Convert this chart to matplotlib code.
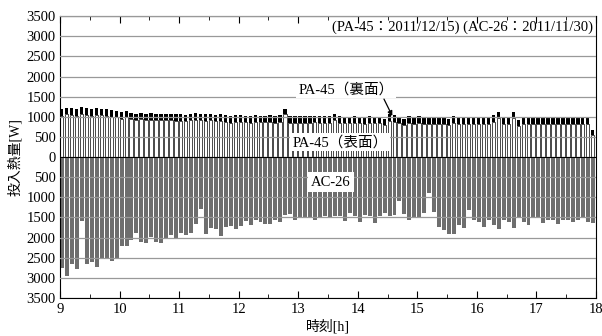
import numpy as np
import matplotlib.pyplot as plt
from matplotlib.ticker import FuncFormatter, MultipleLocator

plt.rcParams['font.family'] = ['Liberation Serif', 'Noto Sans CJK JP']

# 5-minute steps from 9:00 to 17:55
n_bars = 108
t = 9 + np.arange(n_bars) * 5 / 60

# PA-45 total height (front + back) [W]
pa_total = [1190, 1225, 1210, 1190, 1235, 1220, 1195, 1210, 1200, 1185, 1170, 1150,
            1120, 1150, 1100, 1080, 1100, 1075, 1090, 1080, 1075, 1080, 1075, 1070,
            1060, 1050, 1075, 1090, 1075, 1060, 1080, 1050, 1060, 1045, 1020, 1040,
            1040, 1030, 1020, 1040, 1025, 1030, 1035, 1020, 1040, 1190, 1020, 1010,
            1020, 1015, 1010, 1025, 1020, 1015, 1010, 1080, 1010, 1005, 1000, 1010,
            1000, 995, 1010, 1000, 1005, 950, 1060, 1040, 1000, 950, 1020, 990,
            1010, 985, 980, 990, 985, 980, 950, 1010, 985, 980, 990, 980,
            985, 980, 975, 1040, 1125, 985, 975, 1125, 925, 975, 985, 975,
            980, 985, 975, 980, 975, 985, 980, 975, 980, 985, 975, 680]
# PA-45 back side (black cap) [W]
pa_back = [165] * n_bars
pa_back[45] = 130
pa_back[-1] = 140
pa_front = [a - b for a, b in zip(pa_total, pa_back)]

# AC-26 [W] (drawn downward)
ac26 = [2750, 2950, 2667, 2775, 1583, 2650, 2608, 2725, 2517, 2500, 2583, 2525,
        2208, 2208, 2067, 1892, 2100, 2125, 1983, 2100, 2125, 2000, 1933, 2042,
        1892, 1933, 1875, 1667, 1292, 1917, 1750, 1792, 1958, 1733, 1708, 1790,
        1700, 1580, 1675, 1570, 1610, 1650, 1650, 1550, 1610, 1440, 1425, 1550,
        1525, 1480, 1480, 1570, 1480, 1470, 1525, 1470, 1470, 1580, 1400, 1470,
        1610, 1440, 1470, 1625, 1470, 1400, 1470, 1440, 1100, 1415, 1550, 1500,
        1525, 1400, 900, 1360, 1730, 1815, 1915, 1900, 1690, 1760, 1315, 1550,
        1610, 1730, 1550, 1675, 1775, 1550, 1610, 1760, 1480, 1610, 1675, 1525,
        1500, 1625, 1550, 1570, 1665, 1570, 1550, 1610, 1550, 1525, 1610, 1635]

fig = plt.figure(figsize=(6.02, 3.36), dpi=100)
ax = fig.add_axes([0.0997, 0.113, 0.8903, 0.839])

w = 0.8 / 12
ax.bar(t, -np.array(ac26), width=w, align='edge', color='#6e6e6e', zorder=2)
ax.bar(t, pa_front, width=w * 0.85, align='edge', color='white',
       edgecolor='black', linewidth=0.5, zorder=2)
ax.bar(t, pa_back, bottom=pa_front, width=w * 0.85, align='edge',
       color='black', linewidth=0, zorder=2)

ax.set_xlim(9, 18)
ax.set_ylim(-3500, 3500)
ax.yaxis.set_major_locator(MultipleLocator(500))
ax.yaxis.set_major_formatter(FuncFormatter(lambda v, p: f'{abs(int(v))}'))
ax.xaxis.set_major_locator(MultipleLocator(1))
ax.xaxis.set_minor_locator(MultipleLocator(0.5))
ax.tick_params(axis='x', which='both', direction='in', top=True, labelsize=10.5)
ax.tick_params(axis='x', which='major', length=5)
ax.tick_params(axis='x', which='minor', length=3)
ax.tick_params(axis='y', direction='in', length=0, labelsize=10.5, pad=3)
ax.grid(axis='y', color='#999999', linewidth=0.9, zorder=3)
ax.set_axisbelow(False)
ax.axhline(0, color='black', linewidth=0.8, zorder=4)

ax.set_xlabel('時刻[h]', fontsize=10, labelpad=2)
ax.set_ylabel('投入熱量[W]', fontsize=10, labelpad=3)

ax.text(17.95, 3380, '(PA-45：2011/12/15) (AC-26：2011/11/30)', ha='right', va='top',
        fontsize=10.5, zorder=5)

box = dict(facecolor='white', edgecolor='none', pad=1.5)
ax.text(13.8, 1680, 'PA-45（裏面）', ha='center', va='center', fontsize=10.5,
        bbox=box, zorder=5)
ax.annotate('', xy=(14.58, 1020), xytext=(14.44, 1440),
            arrowprops=dict(arrowstyle='-|>', color='black', lw=0.9,
                            mutation_scale=7, shrinkA=0, shrinkB=0), zorder=6)
ax.text(13.7, 370, 'PA-45（表面）', ha='center', va='center', fontsize=10.5,
        bbox=box, zorder=5)
ax.text(13.55, -620, 'AC-26', ha='center', va='center', fontsize=10.5,
        bbox=dict(facecolor='white', edgecolor='none', pad=2.5), zorder=5)

fig.savefig('out.png', dpi=100)
